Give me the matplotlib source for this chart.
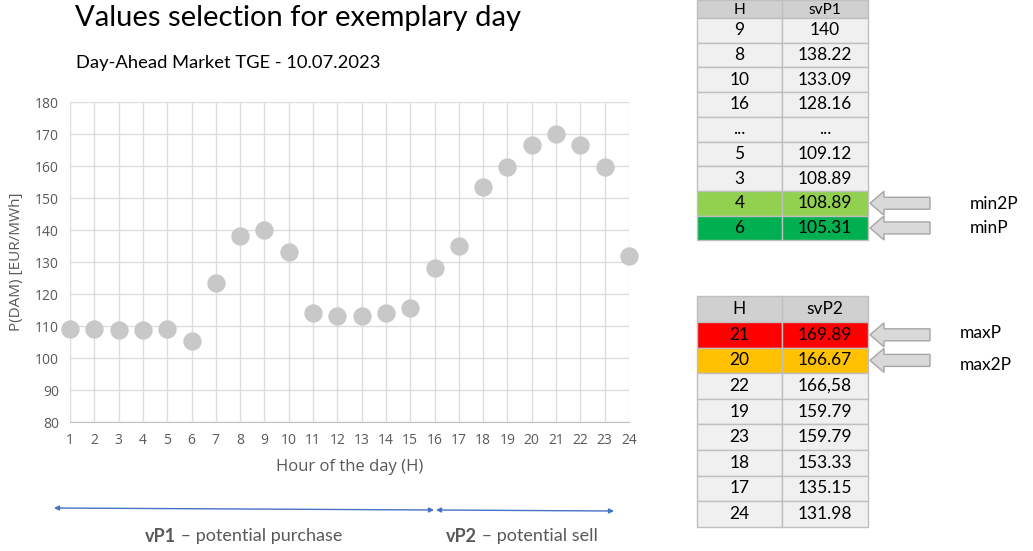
import numpy as np
import matplotlib.pyplot as plt
from matplotlib.patches import Rectangle, Polygon

hours = list(range(1, 25))
price = [109.1, 109.1, 108.89, 108.89, 109.12, 105.31, 123.4, 138.22, 140.0, 133.09,
         114.2, 113.1, 113.1, 114.2, 115.5, 128.16, 135.15, 153.33, 159.79, 166.67,
         169.89, 166.58, 159.79, 131.98]

t1_h = ["9", "8", "10", "16", "...", "5", "3", "4", "6"]
t1_v = ["140", "138.22", "133.09", "128.16", "...", "109.12", "108.89", "108.89", "105.31"]
t1_colors = ["#f0f0f0"] * 7 + ["#92d050", "#00b050"]
t1_marks = {7: "min2P", 8: "minP"}

t2_h = ["21", "20", "22", "19", "23", "18", "17", "24"]
t2_v = ["169.89", "166.67", "166,58", "159.79", "159.79", "153.33", "135.15", "131.98"]
t2_colors = ["#ff0000", "#ffc000"] + ["#f0f0f0"] * 6
t2_marks = {0: "maxP", 1: "max2P"}

W, H = 1033, 551
fig = plt.figure(figsize=(W / 100, H / 100), dpi=100)

# scatter chart
ax = fig.add_axes([70 / W, 1 - 422 / H, 559 / W, 320 / H])
ax.scatter(hours, price, s=175, color="#c8c8c8", zorder=3, clip_on=False, linewidths=0)
ax.set_xlim(1, 24)
ax.set_ylim(80, 180)
ax.set_xticks(hours)
ax.set_yticks(range(80, 181, 10))
ax.grid(True, color="#dcdcdc", lw=1)
ax.set_axisbelow(True)
for s in ["top", "right", "left"]:
    ax.spines[s].set_visible(False)
ax.spines["bottom"].set_color("#c0c0c0")
ax.tick_params(length=0, colors="#595959", labelsize=10, pad=8)
for lab in ax.get_xticklabels() + ax.get_yticklabels():
    lab.set_family("Open Sans")
ax.set_xlabel("Hour of the day (H)", family="Open Sans", fontsize=12, color="#595959", labelpad=8)
ax.set_ylabel("P(DAM) [EUR/MWh]", family="Open Sans", fontsize=11, color="#595959", labelpad=8)

# overlay in pixel coordinates
ov = fig.add_axes([0, 0, 1, 1], zorder=5)
ov.set_xlim(0, W)
ov.set_ylim(H, 0)
ov.axis("off")

ov.text(75, 18, "Values selection for exemplary day", family="Lato", fontsize=21,
        va="center", ha="left", color="#000000")
ov.text(76, 63, "Day-Ahead Market TGE - 10.07.2023", family="Lato", fontsize=13.2,
        va="center", ha="left", color="#000000")


def draw_table(top, header_h, row_h, head2, hs, vs, colors, marks):
    x0, x1, x2 = 697, 782, 868
    fs = 12.5
    ov.add_patch(Rectangle((x0, top), x2 - x0, header_h, fc="#d0d0d0", ec="#bfbfbf", lw=1))
    ov.plot([x1, x1], [top, top + header_h], color="#bfbfbf", lw=1)
    hfs = min(fs, header_h * 0.62)
    ov.text((x0 + x1) / 2, top + header_h / 2 + 0.5, "H", ha="center", va="center", family="Lato", fontsize=hfs)
    ov.text((x1 + x2) / 2, top + header_h / 2 + 0.5, head2, ha="center", va="center", family="Lato", fontsize=hfs)
    y = top + header_h
    for i, (h, v, c) in enumerate(zip(hs, vs, colors)):
        ov.add_patch(Rectangle((x0, y), x1 - x0, row_h, fc=c, ec="#bfbfbf", lw=1))
        ov.add_patch(Rectangle((x1, y), x2 - x1, row_h, fc=c, ec="#bfbfbf", lw=1))
        ov.text((x0 + x1) / 2, y + row_h / 2, h, ha="center", va="center", family="Lato", fontsize=fs)
        ov.text((x1 + x2) / 2, y + row_h / 2, v, ha="center", va="center", family="Lato", fontsize=fs)
        if i in marks:
            yc = y + row_h / 2
            tip, neck, end = 870, 884, 930
            pts = [(tip, yc), (neck, yc - 12), (neck, yc - 6), (end, yc - 6),
                   (end, yc + 6), (neck, yc + 6), (neck, yc + 12)]
            ov.add_patch(Polygon(pts, closed=True, fc="#d9d9d9", ec="#a6a6a6", lw=1))
        y += row_h


draw_table(0, 18, 24.7, "svP1", t1_h, t1_v, t1_colors, t1_marks)
ov.text(970, 204, t1_marks[7], family="Lato", fontsize=12.5, va="center")
ov.text(970, 228, t1_marks[8], family="Lato", fontsize=12.5, va="center")

draw_table(296, 26, 25.6, "svP2", t2_h, t2_v, t2_colors, t2_marks)
ov.text(960, 333, t2_marks[0], family="Lato", fontsize=12.5, va="center")
ov.text(960, 365, t2_marks[1], family="Lato", fontsize=12.5, va="center")

# bottom range arrows
ov.annotate("", xy=(54, 508), xytext=(434, 510),
            arrowprops=dict(arrowstyle="<|-|>", color="#4472c4", lw=1, mutation_scale=7, shrinkA=0, shrinkB=0))
ov.annotate("", xy=(436, 510), xytext=(614, 511),
            arrowprops=dict(arrowstyle="<|-|>", color="#4472c4", lw=1, mutation_scale=7, shrinkA=0, shrinkB=0))

fig.canvas.draw()
r = fig.canvas.get_renderer()
inv = ov.transData.inverted()


def two_part(x, y, bold, rest):
    t = ov.text(x, y, bold, family="Lato", fontweight="bold", fontsize=13, color="#595959", va="center")
    bb = t.get_window_extent(r)
    xe = inv.transform((bb.x1, bb.y0))[0]
    ov.text(xe, y, " \u2013 " + rest, family="Lato", fontsize=13, color="#595959", va="center")


two_part(145, 536, "vP1", "potential purchase")
two_part(446, 536, "vP2", "potential sell")

fig.savefig("out.png", dpi=100)
